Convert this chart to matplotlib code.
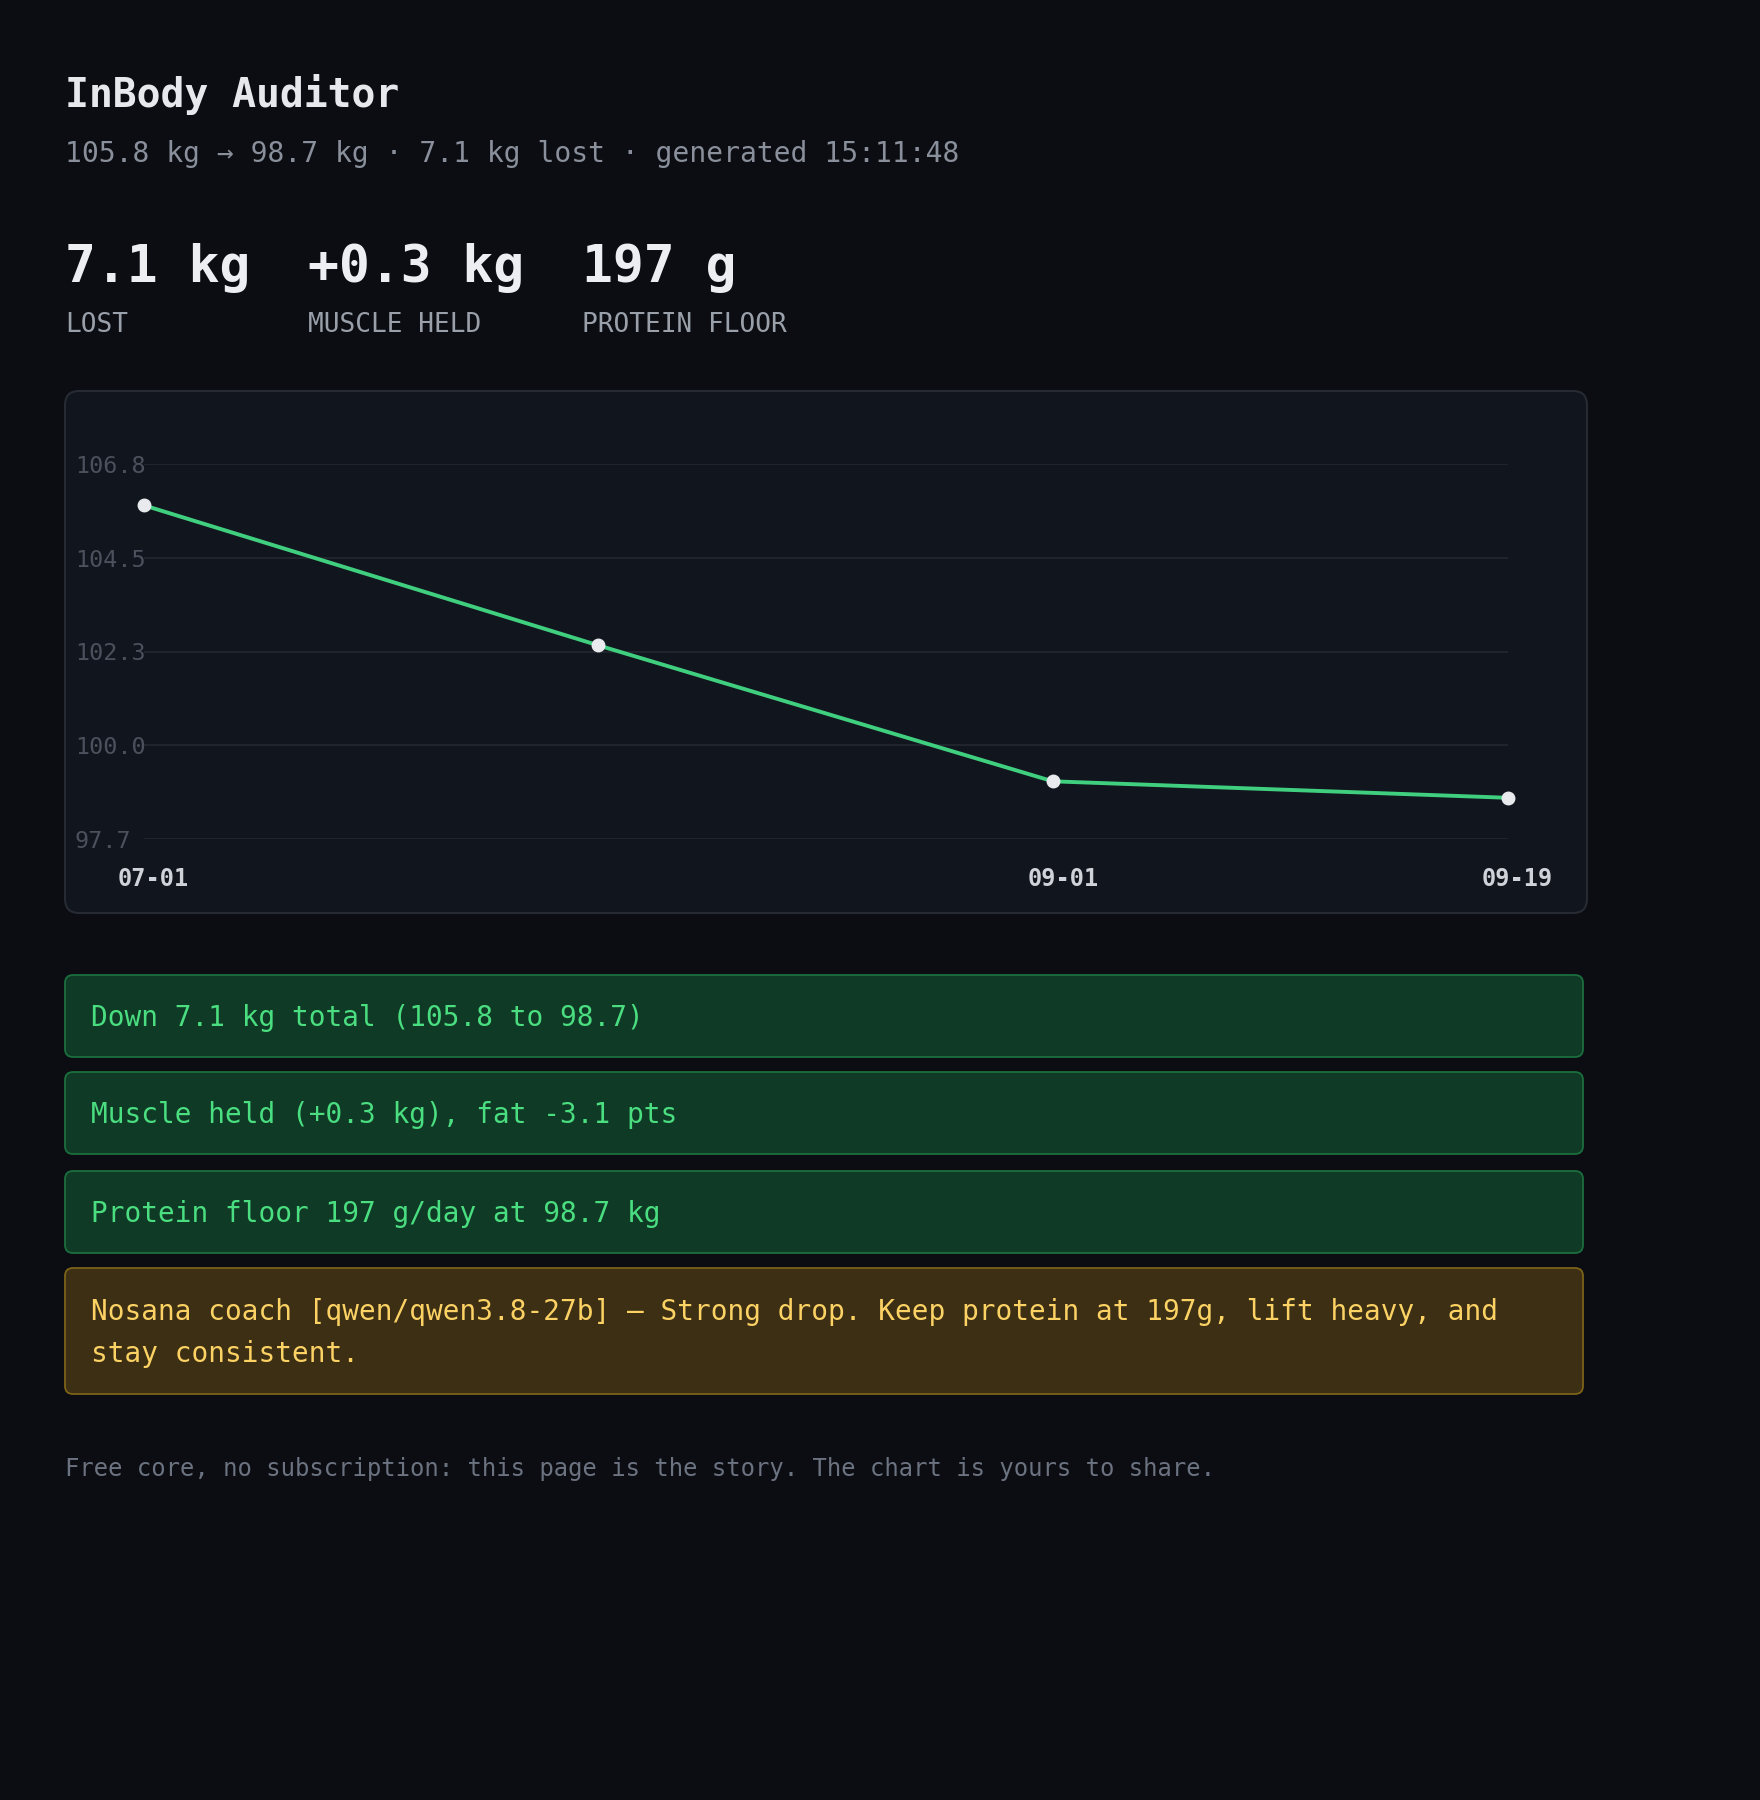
import numpy as np
import matplotlib
matplotlib.use('Agg')
import matplotlib.pyplot as plt
from matplotlib.patches import FancyBboxPatch
from matplotlib.transforms import ScaledTranslation

# Datos
date_labels = ['07-01', '', '09-01', '09-19']
weights = [105.8, 102.4, 99.1, 98.7]
y_min, y_max = 97.7, 106.8
ytick_labels = ['97.7', '100.0', '102.3', '104.5', '106.8']

title = 'InBody Auditor'
subtitle = '105.8 kg \u2192 98.7 kg \u00b7 7.1 kg lost \u00b7 generated 15:11:48'
stat_values = ['7.1 kg', '+0.3 kg', '197 g']
stat_names = ['LOST', 'MUSCLE HELD', 'PROTEIN FLOOR']
good_notes = ['Down 7.1 kg total (105.8 to 98.7)',
              'Muscle held (+0.3 kg), fat -3.1 pts',
              'Protein floor 197 g/day at 98.7 kg']
coach_lines = ['Nosana coach [qwen/qwen3.8-27b] \u2014 Strong drop. Keep protein at 197g, lift heavy, and',
               'stay consistent.']
footer = 'Free core, no subscription: this page is the story. The chart is yours to share.'

# Colores
bg_col = '#0b0d12'
W, H = 1760, 1800
mono = 'DejaVu Sans Mono'

fig = plt.figure(figsize=(W / 100, H / 100), dpi=100, facecolor=bg_col)

# Capa de fondo en coordenadas de pixel
bg = fig.add_axes([0, 0, 1, 1])
bg.set_xlim(0, W)
bg.set_ylim(H, 0)
bg.axis('off')

bg.text(65, 107, title, family=mono, fontsize=28.6, fontweight='bold',
        color='#e6e8ec', va='baseline')
bg.text(65, 162, subtitle, family=mono, fontsize=20.2, color='#8a909b', va='baseline')

stat_x = [65, 308, 582]
for sx, val, name in zip(stat_x, stat_values, stat_names):
    bg.text(sx, 282, val, family=mono, fontsize=37, fontweight='bold',
            color='#eceef2', va='baseline')
    bg.text(sx, 332, name, family=mono, fontsize=18.8, color='#9aa0aa', va='baseline')

# Caja del grafico
bg.add_patch(FancyBboxPatch((65, 391), 1522, 522, boxstyle='round,pad=0,rounding_size=14',
                            facecolor='#11151d', edgecolor='#262a33', linewidth=1.5))

# Alertas
box_tops = [975, 1072, 1171]
for top, note in zip(box_tops, good_notes):
    bg.add_patch(FancyBboxPatch((65, top), 1518, 82, boxstyle='round,pad=0,rounding_size=8',
                                facecolor='#0f3b26', edgecolor='#1b6e3d', linewidth=1.3))
    bg.text(91, top + 51, note, family=mono, fontsize=20, color='#4ade80', va='baseline')

bg.add_patch(FancyBboxPatch((65, 1268), 1518, 126, boxstyle='round,pad=0,rounding_size=8',
                            facecolor='#3c2f13', edgecolor='#7d6218', linewidth=1.3))
for i, line in enumerate(coach_lines):
    bg.text(91, 1320 + i * 42, line, family=mono, fontsize=20, color='#fcd265', va='baseline')

bg.text(65, 1476, footer, family=mono, fontsize=17.2, color='#6b7280', va='baseline')

# Eje del grafico
x0, x1 = 143.5, 1507.5
yb, yt = 839, 464
ax = fig.add_axes([x0 / W, 1 - yb / H, (x1 - x0) / W, (yb - yt) / H])
ax.set_facecolor('none')
ax.set_xlim(0, len(weights) - 1)
ax.set_ylim(y_min, y_max)
for s in ax.spines.values():
    s.set_visible(False)

yticks = np.linspace(y_min, y_max, len(ytick_labels))
for yv in yticks:
    ax.axhline(yv, color='#20242d', linewidth=1.5, zorder=1)
ax.set_yticks(yticks)
ax.set_yticklabels(ytick_labels, family=mono, fontsize=16.8, color='#4b505c')
ax.tick_params(axis='y', length=0, pad=0)
for lab in ax.get_yticklabels():
    lab.set_horizontalalignment('left')
    lab.set_verticalalignment('center_baseline')
    lab.set_transform(lab.get_transform() + ScaledTranslation(-(x0 - 75) / 100, 0, fig.dpi_scale_trans))

xs = np.arange(len(weights))
ax.set_xticks(xs)
ax.set_xticklabels(date_labels, family=mono, fontsize=17, fontweight='bold', color='#cfd2d8')
ax.tick_params(axis='x', length=0, pad=0)
for lab in ax.get_xticklabels():
    lab.set_verticalalignment('baseline')
    lab.set_transform(lab.get_transform() + ScaledTranslation(10 / 100, -47 / 100, fig.dpi_scale_trans))

ax.plot(xs, weights, color='#3fcf7f', linewidth=2.8, zorder=3, clip_on=False)
ax.plot(xs, weights, 'o', color='#e8eaee', markersize=9, zorder=4, clip_on=False)

fig.savefig('out.png', dpi=100, facecolor=bg_col)
